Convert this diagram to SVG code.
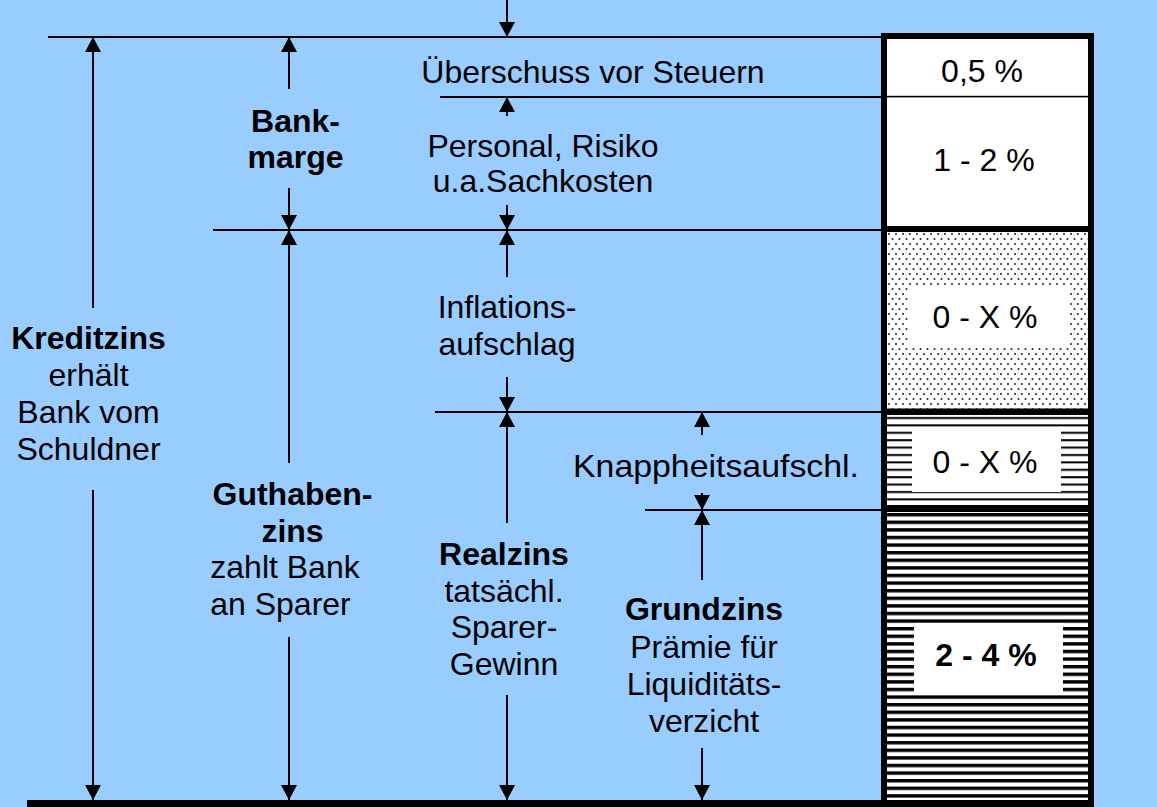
<svg xmlns="http://www.w3.org/2000/svg" width="1157" height="807" viewBox="0 0 1157 807">
<defs>
<style>
text{font-family:"Liberation Sans",Arial,sans-serif;font-size:32px;fill:#000;text-anchor:middle}
.b{font-weight:bold}
.ln{stroke:#000;stroke-width:2;fill:none}
.ar{stroke:#000;stroke-width:2;fill:none;marker-end:url(#ah)}
.box{fill:#fff}
</style>
<marker id="ah" viewBox="0 0 15 16" refX="15" refY="8" markerWidth="15" markerHeight="16" markerUnits="userSpaceOnUse" orient="auto"><path d="M0,0 L15,8 L0,16 z" fill="#000"/></marker>
<pattern id="dots" patternUnits="userSpaceOnUse" x="887" y="232" width="7" height="10"><circle cx="2" cy="2" r="1" fill="#222"/><circle cx="5.5" cy="7" r="1" fill="#222"/></pattern>
<pattern id="thin" patternUnits="userSpaceOnUse" x="0" y="415" width="10" height="7.4"><rect x="0" y="2" width="10" height="2" fill="#000"/></pattern>
<pattern id="dense" patternUnits="userSpaceOnUse" x="0" y="512" width="10" height="7.6"><rect x="0" y="1" width="10" height="3.4" fill="#000"/></pattern>
</defs>
<rect x="0" y="0" width="1157" height="807" fill="#99CCFF"/>

<g id="column">
<rect x="884" y="36" width="207" height="764" fill="#fff"/>
<rect x="887" y="232" width="201" height="177" fill="url(#dots)"/>
<rect x="887" y="415" width="201" height="90" fill="url(#thin)"/>
<rect x="887" y="512" width="201" height="288" fill="url(#dense)"/>
<rect x="884" y="95.8" width="207" height="1.6" fill="#000"/>
<rect x="884" y="226" width="207" height="6" fill="#000"/>
<rect x="884" y="408.5" width="207" height="6.5" fill="#000"/>
<rect x="884" y="505" width="207" height="7" fill="#000"/>
<rect x="884" y="36" width="207" height="767" fill="none" stroke="#000" stroke-width="6"/>
</g>

<g id="seg-ueberschuss"><text x="982" y="82">0,5 %</text></g>
<g id="seg-personal"><text x="984" y="171">1 - 2 %</text></g>
<g id="seg-inflation"><rect class="box" x="908" y="287" width="162" height="61"/><text x="985" y="328">0 - X %</text></g>
<g id="seg-knappheit"><rect class="box" x="912" y="431" width="149" height="61"/><text x="985" y="473">0 - X %</text></g>
<g id="seg-grundzins"><rect class="box" x="914" y="623" width="149" height="69"/><text class="b" x="986" y="666">2 - 4 %</text></g>

<g id="connectors">
<path class="ln" d="M48,37 H881" stroke-width="2.5"/>
<path class="ln" d="M440,97 H884"/>
<path class="ln" d="M213,230 H884"/>
<path class="ln" d="M435,412 H884"/>
<path class="ln" d="M645,510 H884"/>
<rect x="27" y="800" width="1067" height="7" fill="#000"/>
<line class="ar" x1="507" y1="0" x2="507" y2="37"/>
<line class="ar" x1="93" y1="308" x2="93" y2="37"/>
<line class="ar" x1="289" y1="89" x2="289" y2="37"/>
<line class="ar" x1="507" y1="116" x2="507" y2="97"/>
<line class="ar" x1="289" y1="188" x2="289" y2="230"/>
<line class="ar" x1="507" y1="205" x2="507" y2="230"/>
<line class="ar" x1="289" y1="463" x2="289" y2="230"/>
<line class="ar" x1="507" y1="277" x2="507" y2="230"/>
<line class="ar" x1="507" y1="377" x2="507" y2="412"/>
<line class="ar" x1="507" y1="523" x2="507" y2="412"/>
<line class="ar" x1="702" y1="435" x2="702" y2="412"/>
<line class="ar" x1="702" y1="493" x2="702" y2="510"/>
<line class="ar" x1="702" y1="580" x2="702" y2="510"/>
<line class="ar" x1="93" y1="490" x2="93" y2="800"/>
<line class="ar" x1="289" y1="637" x2="289" y2="800"/>
<line class="ar" x1="507" y1="695" x2="507" y2="800"/>
<line class="ar" x1="702" y1="748" x2="702" y2="800"/>
</g>

<g id="kreditzins">
<text class="b" x="88.5" y="349">Kreditzins</text>
<text x="88.5" y="386">erhält</text>
<text x="88.5" y="423">Bank vom</text>
<text x="88.5" y="460">Schuldner</text>
</g>
<g id="bankmarge">
<text class="b" x="295.5" y="132">Bank-</text>
<text class="b" x="295.5" y="168">marge</text>
</g>
<g id="guthabenzins">
<text class="b" x="292.5" y="505">Guthaben-</text>
<text class="b" x="292.5" y="542">zins</text>
<text x="285" y="578">zahlt Bank</text>
<text x="280.5" y="615">an Sparer</text>
</g>
<g id="ueberschuss"><text x="593" y="83">Überschuss vor Steuern</text></g>
<g id="personal">
<text x="543" y="157">Personal, Risiko</text>
<text x="543" y="192">u.a.Sachkosten</text>
</g>
<g id="inflation">
<text x="507" y="318">Inflations-</text>
<text x="507" y="355">aufschlag</text>
</g>
<g id="realzins">
<text class="b" x="504" y="565">Realzins</text>
<text x="504" y="602">tatsächl.</text>
<text x="504" y="638">Sparer-</text>
<text x="504" y="675">Gewinn</text>
</g>
<g id="knappheit"><text x="716" y="477" textLength="286" lengthAdjust="spacingAndGlyphs">Knappheitsaufschl.</text></g>
<g id="grundzins">
<text class="b" x="704" y="620">Grundzins</text>
<text x="704" y="658">Prämie für</text>
<text x="704" y="695">Liquiditäts-</text>
<text x="704" y="732">verzicht</text>
</g>
</svg>
